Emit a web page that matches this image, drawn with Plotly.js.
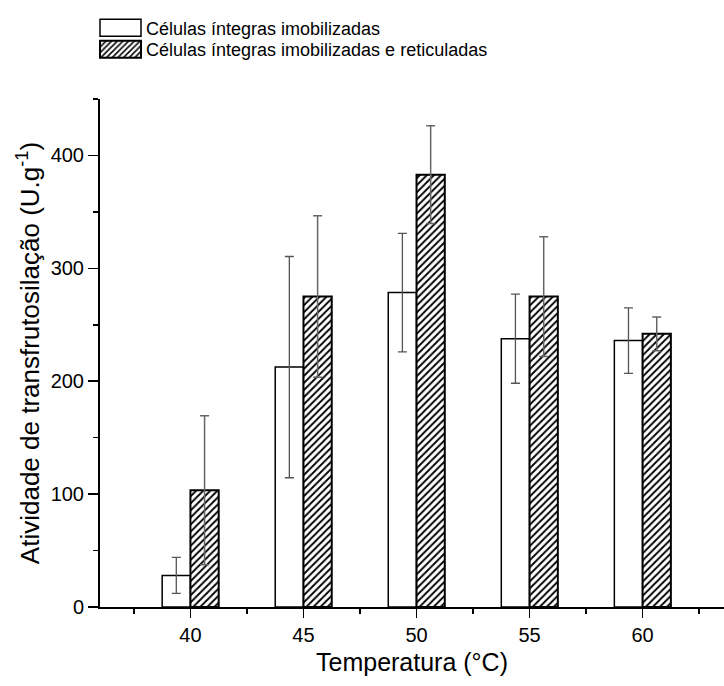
<!DOCTYPE html>
<html>
<head>
<meta charset="utf-8">
<script src="https://cdn.plot.ly/plotly-3.0.1.min.js"></script>
<style>
  html, body { margin: 0; padding: 0; background: #fff; }
  #chart { width: 724px; height: 686px; }
</style>
</head>
<body>
<div id="chart"></div>
<script>
// Data
const temperatures = [40, 45, 50, 55, 60];
const seriesNames = ["Células íntegras imobilizadas", "Células íntegras imobilizadas e reticuladas"];
const imobilizadas = [28, 212.5, 278.5, 237.7, 236];
const imobilizadasErr = [16, 98, 52.5, 39.5, 29];
const reticuladas = [103.5, 275, 383, 275, 242];
const reticuladasErr = [66, 71.5, 43.2, 53, 15];
const yTicks = [0, 100, 200, 300, 400];
const xTicks = [40, 45, 50, 55, 60];

const font = "Arial, 'Liberation Sans', sans-serif";

const traces = [
  {
    type: "bar",
    name: seriesNames[0],
    legend: "legend",
    x: temperatures,
    y: imobilizadas,
    width: 1.25,
    offset: -1.25,
    marker: { color: "#ffffff", line: { color: "#000000", width: 1.5 } },
    error_y: { type: "data", array: imobilizadasErr, visible: true, color: "#555555", thickness: 1.3, width: 4.5 }
  },
  {
    type: "bar",
    name: seriesNames[1],
    legend: "legend2",
    x: temperatures,
    y: reticuladas,
    width: 1.25,
    offset: 0,
    marker: {
      color: "#ffffff",
      line: { color: "#000000", width: 2 },
      pattern: { shape: "/", fgcolor: "#000000", bgcolor: "#ffffff", size: 5, solidity: 0.38 }
    },
    error_y: { type: "data", array: reticuladasErr, visible: true, color: "#666666", thickness: 1.5, width: 4.5 }
  }
];

const legendStyle = {
  xanchor: "left",
  yanchor: "middle",
  bgcolor: "rgba(0,0,0,0)",
  itemwidth: 41,
  font: { family: font, size: 18, color: "#000000" }
};

const layout = {
  width: 724,
  height: 686,
  margin: { l: 100, r: 0, t: 99, b: 79 },
  paper_bgcolor: "#ffffff",
  plot_bgcolor: "#ffffff",
  barmode: "overlay",
  showlegend: true,
  font: { family: font, color: "#000000", size: 20 },
  legend: Object.assign({ x: -0.008, y: 1.1398 }, legendStyle),
  legend2: Object.assign({ x: -0.008, y: 1.0974 }, legendStyle),
  xaxis: {
    range: [36, 63.6],
    tickmode: "array",
    tickvals: xTicks,
    ticktext: xTicks.map(String),
    ticks: "outside",
    ticklen: 9,
    tickwidth: 1.5,
    tickcolor: "#000000",
    minor: { dtick: 2.5, tick0: 37.5, ticks: "outside", ticklen: 5, tickwidth: 1.5, tickcolor: "#000000" },
    showline: true,
    linecolor: "#000000",
    linewidth: 2,
    showgrid: false,
    zeroline: false,
    tickfont: { family: font, size: 20 },
    title: { text: "Temperatura (°C)", font: { family: font, size: 25 }, standoff: 8 }
  },
  yaxis: {
    range: [0, 450],
    tickmode: "array",
    tickvals: yTicks,
    ticktext: yTicks.map(String),
    ticks: "outside",
    ticklen: 10,
    tickwidth: 1.5,
    tickcolor: "#000000",
    minor: { dtick: 50, tick0: 50, ticks: "outside", ticklen: 5, tickwidth: 1.5, tickcolor: "#000000" },
    showline: true,
    linecolor: "#000000",
    linewidth: 2,
    showgrid: false,
    zeroline: false,
    tickfont: { family: font, size: 20 },
    title: { text: "Atividade de transfrutosilação (U.g<sup>-1</sup>)", font: { family: font, size: 26 }, standoff: 4 }
  }
};

Plotly.newPlot("chart", traces, layout, { displayModeBar: false, staticPlot: true }).then(function (gd) {
  // enlarge legend swatches to match the reference look
  gd.querySelectorAll(".legendpoints path").forEach(function (p) {
    p.setAttribute("d", "M20.5,8.5H-20.5V-8.5H20.5Z");
  });
});
</script>
</body>
</html>
